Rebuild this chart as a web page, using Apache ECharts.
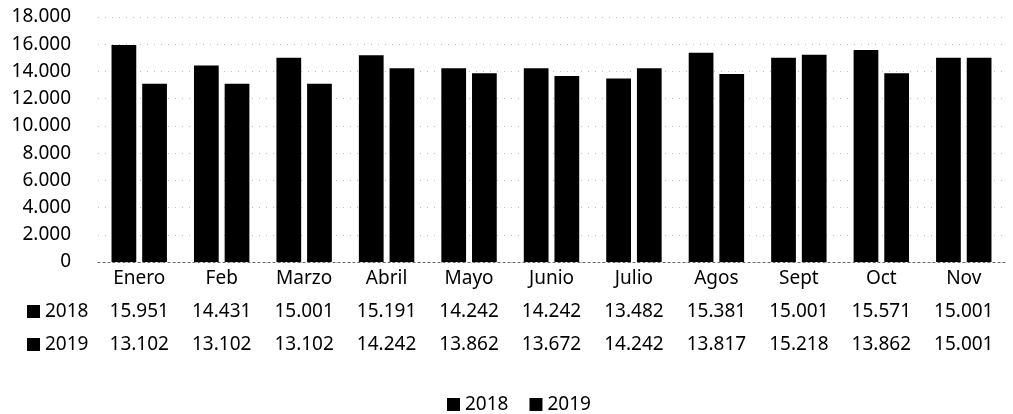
<!DOCTYPE html>
<html>
<head>
<meta charset="utf-8">
<script src="https://cdn.jsdelivr.net/npm/echarts@6/dist/echarts.min.js"></script>
<style>
  html, body { margin: 0; padding: 0; background: #fff; }
  #chart { width: 1013px; height: 414px; }
</style>
</head>
<body>
<div id="chart"></div>
<script>
// Monthly totals for two years
const months = ['Enero', 'Feb', 'Marzo', 'Abril', 'Mayo', 'Junio', 'Julio', 'Agos', 'Sept', 'Oct', 'Nov'];
const seriesNames = ['2018', '2019'];
const values2018 = [15951, 14431, 15001, 15191, 14242, 14242, 13482, 15381, 15001, 15571, 15001];
const values2019 = [13102, 13102, 13102, 14242, 13862, 13672, 14242, 13817, 15218, 13862, 15001];
const yTicks = { min: 0, max: 18000, interval: 2000 };

const FONT = '"Noto Sans"';
const FONT_SIZE = 19;
const TEXT = '#000';
const BAR = '#000';

// thousands separator as a dot: 15951 -> "15.951"
function fmt(v) {
  return String(v).replace(/\B(?=(\d{3})+(?!\d))/g, '.');
}

const ROW_H = 33;
const AXIS_Y = 262;

const chart = echarts.init(document.getElementById('chart'), null, { renderer: 'canvas' });

// row headers of the data table under the plot
const rowHeaders = seriesNames.map((name, i) => {
  const cy = AXIS_Y + ROW_H * (i + 1) + ROW_H / 2;
  return {
    type: 'group',
    children: [
      { type: 'rect', shape: { x: 27, y: cy - 6.5, width: 13, height: 13 }, style: { fill: BAR } },
      { type: 'text', x: 45, y: cy, style: { text: name, font: FONT_SIZE + 'px ' + FONT, fill: TEXT, textVerticalAlign: 'middle', textAlign: 'left' } }
    ]
  };
});

chart.setOption({
  animation: false,
  backgroundColor: '#fff',
  textStyle: { fontFamily: FONT },
  grid: { left: 98, right: 8, top: 17, bottom: 414 - AXIS_Y, containLabel: false },
  legend: {
    data: seriesNames,
    left: 442,
    top: 390,
    icon: 'rect',
    itemWidth: 13,
    itemHeight: 13,
    itemGap: 21,
    textStyle: { fontFamily: FONT, fontSize: FONT_SIZE, color: TEXT, padding: [0, 0, 0, 0] }
  },
  xAxis: {
    type: 'category',
    data: months,
    axisTick: { show: false },
    axisLine: { show: true, lineStyle: { color: '#666', width: 1, type: [2, 3] } },
    splitLine: { show: false },
    axisLabel: {
      interval: 0,
      margin: 0,
      color: TEXT,
      fontFamily: FONT,
      fontSize: FONT_SIZE,
      lineHeight: ROW_H,
      formatter: (value, idx) =>
        value + '\n{v|' + fmt(values2018[idx]) + '}\n{v|' + fmt(values2019[idx]) + '}',
      rich: {
        v: { fontFamily: FONT, fontSize: FONT_SIZE, color: TEXT, lineHeight: ROW_H }
      }
    }
  },
  yAxis: {
    type: 'value',
    min: yTicks.min,
    max: yTicks.max,
    interval: yTicks.interval,
    axisLine: { show: false },
    axisTick: { show: false },
    splitLine: { show: true, lineStyle: { color: '#bbb', width: 1, type: [1, 6] } },
    axisLabel: {
      margin: 27,
      color: TEXT,
      fontFamily: FONT,
      fontSize: FONT_SIZE,
      formatter: v => fmt(v)
    }
  },
  series: [
    { name: seriesNames[0], type: 'bar', data: values2018, barWidth: '30%', barGap: '24%', itemStyle: { color: BAR } },
    { name: seriesNames[1], type: 'bar', data: values2019, barWidth: '30%', barGap: '24%', itemStyle: { color: BAR } }
  ],
  graphic: rowHeaders
});
</script>
</body>
</html>
